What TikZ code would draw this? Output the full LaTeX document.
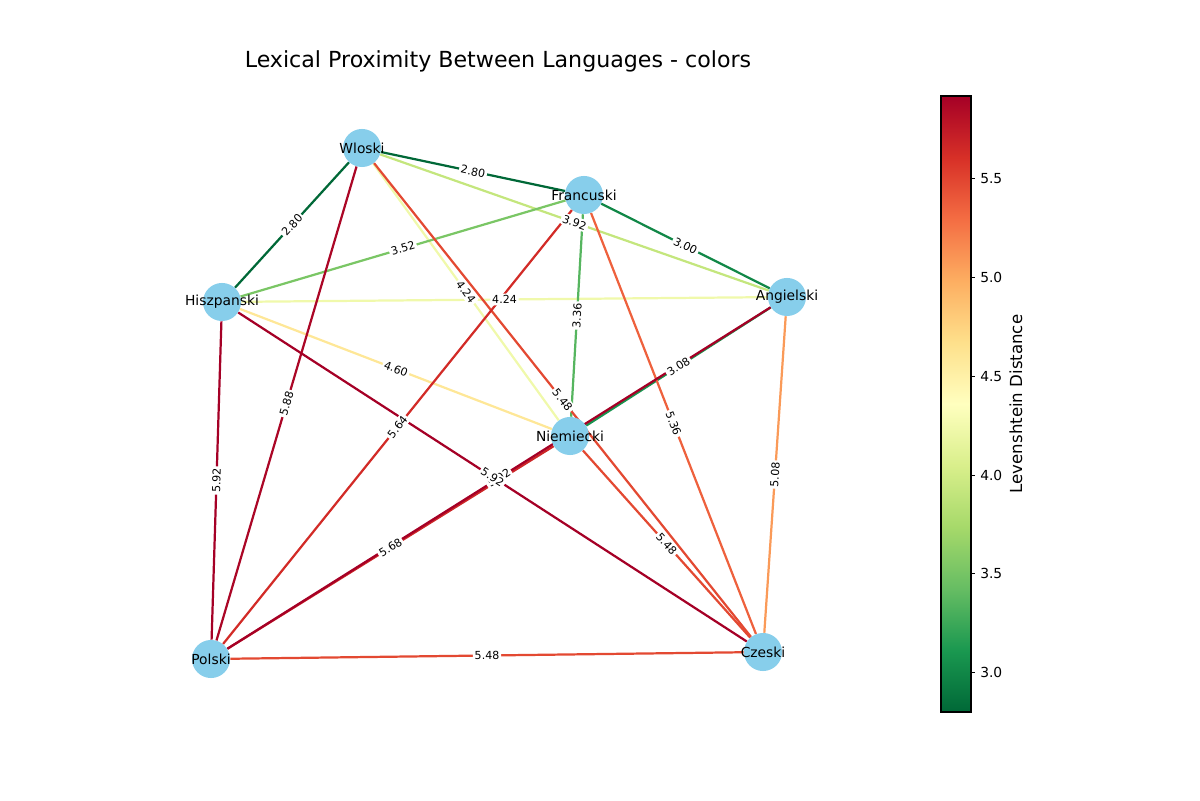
\documentclass[tikz,border=0pt]{standalone}
\usepackage{fontspec}
\setmainfont{DejaVu Sans}
\usetikzlibrary{backgrounds}
\definecolor{skyb}{RGB}{135,206,235}
\definecolor{cA}{RGB}{0,104,55}
\definecolor{cB}{RGB}{17,135,71}
\definecolor{cC}{RGB}{23,147,78}
\definecolor{cD}{RGB}{86,181,95}
\definecolor{cE}{RGB}{122,198,101}
\definecolor{cF}{RGB}{196,230,125}
\definecolor{cG}{RGB}{240,249,171}
\definecolor{cH}{RGB}{254,231,151}
\definecolor{cI}{RGB}{250,154,88}
\definecolor{cJ}{RGB}{238,97,61}
\definecolor{cK}{RGB}{227,73,50}
\definecolor{cL}{RGB}{210,43,39}
\definecolor{cM}{RGB}{204,37,39}
\definecolor{cN}{RGB}{171,6,38}
\definecolor{cO}{RGB}{165,0,38}
\definecolor{g0}{HTML}{A50026}
\definecolor{g1}{HTML}{D73027}
\definecolor{g2}{HTML}{F46D43}
\definecolor{g3}{HTML}{FDAE61}
\definecolor{g4}{HTML}{FEE08B}
\definecolor{g5}{HTML}{FFFFBF}
\definecolor{g6}{HTML}{D9EF8B}
\definecolor{g7}{HTML}{A6D96A}
\definecolor{g8}{HTML}{66BD63}
\definecolor{g9}{HTML}{1A9850}
\definecolor{g10}{HTML}{006837}
\pgfdeclareverticalshading{rdylgnr}{100bp}{color(0bp)=(g10); color(25bp)=(g10); color(30bp)=(g9); color(35bp)=(g8); color(40bp)=(g7); color(45bp)=(g6); color(50bp)=(g5); color(55bp)=(g4); color(60bp)=(g3); color(65bp)=(g2); color(70bp)=(g1); color(75bp)=(g0); color(100bp)=(g0)}
\tikzset{
  dot/.style={circle, fill=skyb, minimum size=27.4bp, inner sep=0pt},
  lbl/.style={font=\fontsize{10}{12}\selectfont, inner sep=0pt},
  edge/.style={line width=1.6bp},
  elabel/.style={font=\fontsize{8}{9}\selectfont, fill=white, text=black, inner sep=1.3pt, rounded corners=2pt, sloped, midway},
  tick/.style={font=\fontsize{10}{12}\selectfont, anchor=west, inner sep=0pt}
}
\begin{document}
\begin{tikzpicture}[x=0.72bp, y=0.72bp]
\useasboundingbox (0,0) rectangle (1200,800);
% nodes
\node[dot] (W) at (362,652) {};
\node[dot] (F) at (584,605) {};
\node[dot] (H) at (222,498) {};
\node[dot] (A) at (787,503) {};
\node[dot] (N) at (570,364) {};
\node[dot] (P) at (211,141) {};
\node[dot] (C) at (763,148) {};
\node[lbl] (Wl) at (W) {Wloski};
\node[lbl] (Fl) at (F) {Francuski};
\node[lbl] (Hl) at (H) {Hiszpanski};
\node[lbl] (Al) at (A) {Angielski};
\node[lbl] (Nl) at (N) {Niemiecki};
\node[lbl] (Pl) at (P) {Polski};
\node[lbl] (Cl) at (C) {Czeski};
% edges
\begin{scope}[on background layer]
\draw[edge, cG] (H) -- (A);
\draw[edge, cG] (W) -- (N);
\draw[edge, cF] (W) -- (A);
\draw[edge, cH] (H) -- (N);
\draw[edge, cE] (H) -- (F);
\draw[edge, cD] (F) -- (N);
\draw[edge, cA] (W) -- (F);
\draw[edge, cA] (W) -- (H);
\draw[edge, cB] (F) -- (A);
\draw[edge, cC] (A) -- (N);
\draw[edge, cI] (A) -- (C);
\draw[edge, cJ] (F) -- (C);
\draw[edge, cK] (W) -- (C);
\draw[edge, cK] (N) -- (C);
\draw[edge, cK] (P) -- (C);
\draw[edge, cL] (F) -- (P);
\draw[edge, cM] (N) -- (P);
\draw[edge, cN] (W) -- (P);
\draw[edge, cO] (A) -- (P);
\draw[edge, cO] (H) -- (C);
\draw[edge, cO] (H) -- (P);
\end{scope}
% edge labels
\path (H) -- node[elabel] {4.24} (A);
\path (W) -- node[elabel] {4.24} (N);
\path (W) -- node[elabel] {3.92} (A);
\path (H) -- node[elabel] {4.60} (N);
\path (H) -- node[elabel] {3.52} (F);
\path (F) -- node[elabel] {3.36} (N);
\path (W) -- node[elabel] {2.80} (F);
\path (W) -- node[elabel] {2.80} (H);
\path (F) -- node[elabel] {3.00} (A);
\path (A) -- node[elabel] {3.08} (N);
\path (A) -- node[elabel] {5.08} (C);
\path (F) -- node[elabel] {5.36} (C);
\path (W) -- node[elabel] {5.48} (C);
\path (N) -- node[elabel] {5.48} (C);
\path (P) -- node[elabel] {5.48} (C);
\path (F) -- node[elabel] {5.64} (P);
\path (N) -- node[elabel] {5.68} (P);
\path (W) -- node[elabel] {5.88} (P);
\path (A) -- node[elabel] {5.92} (P);
\path (H) -- node[elabel] {5.92} (C);
\path (H) -- node[elabel] {5.92} (P);
% title
\node[font=\fontsize{16}{19}\selectfont] (title) at (498,739) {Lexical Proximity Between Languages - colors};
% colorbar
\shade[shading=rdylgnr] (941,88) rectangle (971,704);
\draw[line width=0.8bp] (941,88) rectangle (971,704);
\foreach \v/\yy in {3.0/127.5, 3.5/226.2, 4.0/324.9, 4.5/423.6, 5.0/522.4, 5.5/621.1}{
  \draw[line width=0.8bp] (971,\yy) -- (975,\yy);
  \node[tick] at (980,\yy) {\v};
}
\node[font=\fontsize{12}{14}\selectfont, rotate=90] (cbl) at (1016,396) {Levenshtein Distance};
\end{tikzpicture}
\end{document}
